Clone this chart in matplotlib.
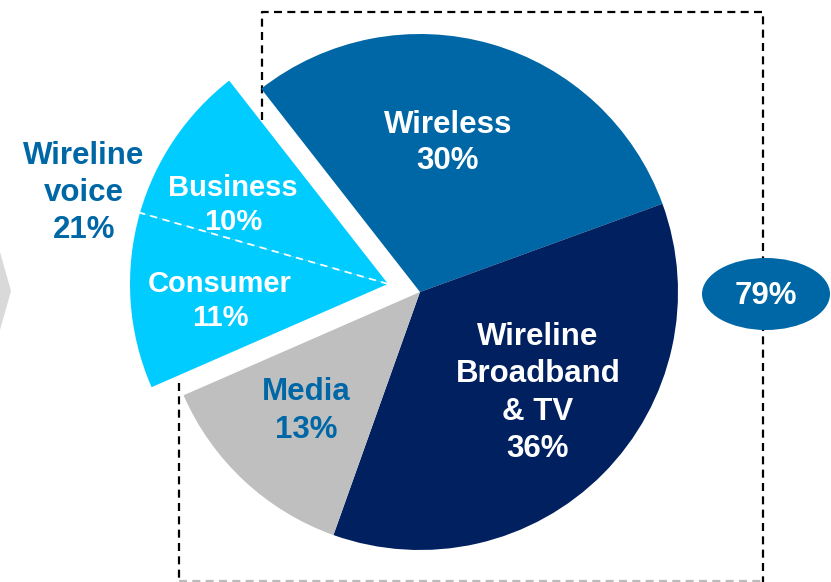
import math
import matplotlib
matplotlib.use("Agg")
import matplotlib.pyplot as plt
import matplotlib.patches as patches

# data
segmenten = ["Wireless", "Wireline\nBroadband\n& TV", "Media", "Consumer", "Business"]
aandelen = [30, 36, 13, 11, 10]
kleuren = ["#0067A6", "#002060", "#BFBFBF", "#00CCFF", "#00CCFF"]
voice_label = "Wireline\nvoice\n21%"
totaal_label = "79%"

BLAUW = "#0067A6"
H = 582  # figuurhoogte in pixels, y loopt omhoog

plt.rcParams['font.family'] = ['Liberation Sans', 'DejaVu Sans']

fig = plt.figure(figsize=(8.31, 5.82), dpi=100)
ax = fig.add_axes([0, 0, 1, 1])

cx, cy, r = 420, H - 292, 258
wedges, _ = ax.pie(aandelen, colors=kleuren, startangle=128, counterclock=False,
                   center=(cx, cy), radius=r, wedgeprops=dict(linewidth=0))
for w in wedges:
    w.set_zorder(3)

# wireline voice (consumer + business) naar buiten schuiven
t_min = min(wedges[3].theta1, wedges[4].theta1)
t_max = max(wedges[3].theta2, wedges[4].theta2)
mid = math.radians((t_min + t_max) / 2)
d = 33
ncx, ncy = cx + d * math.cos(mid), cy + d * math.sin(mid)
for w in wedges[3:]:
    w.set_center((ncx, ncy))

# gestippelde scheiding tussen consumer en business
grens = math.radians(wedges[3].theta1)
ax.plot([ncx, ncx + r * math.cos(grens)], [ncy, ncy + r * math.sin(grens)],
        color="white", lw=1.3, ls=(0, (4, 3)), zorder=4)

# gestippelde kader rond 79%
stip = dict(color="black", lw=1.6, ls=(0, (3.6, 2.4)), zorder=1)
ax.plot([262, 262, 763, 763], [H - 120, H - 12, H - 12, H - 600], **stip)
ax.plot([179, 179], [H - 383, H - 582], **stip)
ax.plot([179, 763], [H - 581, H - 581], color="#BBBBBB", lw=1.6, ls=(0, (3.6, 2.4)), zorder=1)

# ellips met 79%
ax.add_patch(patches.Ellipse((766, H - 294), 128, 72, color=BLAUW, zorder=5, lw=0))
ax.text(766, H - 296, totaal_label, color="white", fontsize=22.5, fontweight="bold",
        ha="center", va="center", zorder=6)

# grijze pijl links
ax.add_patch(patches.Polygon([(0, H - 252), (11, H - 291), (0, H - 330)],
                             closed=True, color="#D9D9D9", lw=0, zorder=1))

# labels
tekst = dict(fontweight="bold", ha="center", va="center", zorder=6)
ax.text(448, H - 143, f"{segmenten[0]}\n{aandelen[0]}%", color="white",
        fontsize=22.5, linespacing=1.25, **tekst)
ax.text(538, H - 393, f"{segmenten[1]}\n{aandelen[1]}%", color="white",
        fontsize=22.5, linespacing=1.32, **tekst)
ax.text(306, H - 411, f"{segmenten[2]}\n{aandelen[2]}%", color=BLAUW,
        fontsize=22.5, linespacing=1.38, **tekst)
ax.text(220, H - 301, f"{segmenten[3]}\n{aandelen[3]}%", color="white",
        fontsize=21, linespacing=1.3, **tekst)
ax.text(233, H - 205, f"{segmenten[4]}\n{aandelen[4]}%", color="white",
        fontsize=21, linespacing=1.3, **tekst)
ax.text(84, H - 193, voice_label, color=BLAUW, fontsize=22.5, linespacing=1.3, **tekst)

ax.set_xlim(0, 831)
ax.set_ylim(0, H)
ax.set_aspect("equal")
ax.axis("off")

fig.savefig("out.png", dpi=100)
